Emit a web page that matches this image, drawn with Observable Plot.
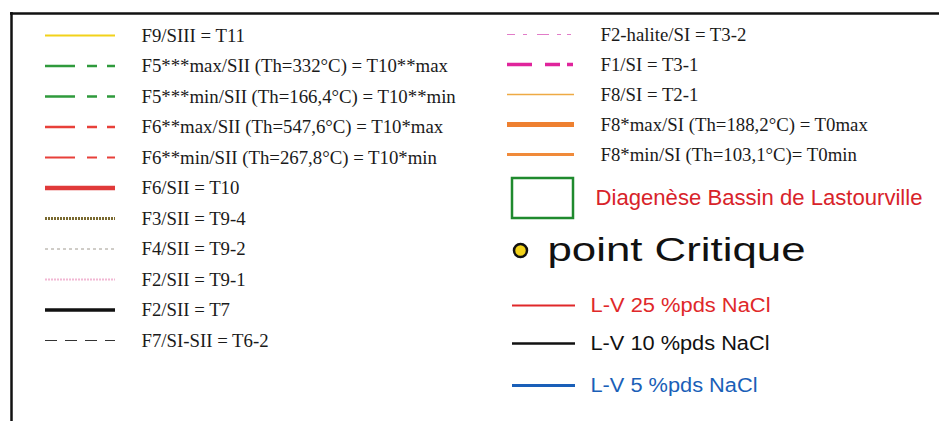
<!DOCTYPE html>
<html>
<head>
<meta charset="utf-8">
<script src="https://cdn.jsdelivr.net/npm/d3@7"></script>
<script src="https://cdn.jsdelivr.net/npm/@observablehq/plot@0.6"></script>
<style>
  html, body { margin: 0; padding: 0; background: #fff; }
  svg { display: block; }
</style>
</head>
<body>
<div id="chart"></div>
<script>
// ---- Data (legend entries) ----
const leftLabels = [
  "F9/SIII = T11",
  "F5***max/SII (Th=332°C) = T10**max",
  "F5***min/SII (Th=166,4°C) = T10**min",
  "F6**max/SII (Th=547,6°C) = T10*max",
  "F6**min/SII (Th=267,8°C) = T10*min",
  "F6/SII = T10",
  "F3/SII = T9-4",
  "F4/SII = T9-2",
  "F2/SII = T9-1",
  "F2/SII = T7",
  "F7/SI-SII = T6-2"
];
const leftColors = ["#f2d21a", "#2f9a3c", "#2f9a3c", "#e8403a", "#e8403a", "#e03a3a", "#7a6a30", "#a09a90", "#f2b8d4", "#111111", "#333333"];

const rightLabels = [
  "F2-halite/SI = T3-2",
  "F1/SI = T3-1",
  "F8/SI = T2-1",
  "F8*max/SI (Th=188,2°C) = T0max",
  "F8*min/SI (Th=103,1°C)= T0min"
];
const rightColors = ["#e27cc8", "#e0249c", "#eeaa44", "#ee8030", "#f08a3a"];

const salinityLabels = ["L-V 25 %pds NaCl", "L-V 10 %pds NaCl", "L-V 5 %pds NaCl"];
const salinityColors = ["#e0282a", "#111111", "#1a5fb8"];

const basinLabel = "Diagenèse Bassin de Lastourville";
const critLabel = "point Critique";

// ---- Styles & layout (kept apart from the data) ----
const leftDash = ["none", "30,12,10,10,8", "30,12,10,10,8", "30,12,10,10,8", "30,12,10,10,8", "none", "2,1", "3,3", "2,1", "none", "12,8"];
const leftWidth = [2, 2.5, 2.5, 2.5, 2, 4.5, 3, 1, 2, 3.5, 1.2];
const rightDash = ["8,8,4,10,12,8,4,6,4", "25,13,15,7,6", "none", "none", "none"];
const rightWidth = [1.2, 3.5, 1.5, 5, 3];
const salinityWidth = [2, 2.5, 3];

const leftRowsY = leftLabels.map((_, i) => 35 + i * 30.5);
const rightRowsY = rightLabels.map((_, i) => 34 + i * 30);
const salinityY = [305, 343, 385];
const sansTextLength = {[basinLabel]: 327, [critLabel]: 258, "L-V 25 %pds NaCl": 180, "L-V 10 %pds NaCl": 179, "L-V 5 %pds NaCl": 167};

const leftRows = leftLabels.map((label, i) => ({label, y: leftRowsY[i], x1: 45, x2: 115, tx: 141, color: leftColors[i], dash: leftDash[i], w: leftWidth[i]}));
const rightRows = rightLabels.map((label, i) => ({label, y: rightRowsY[i], x1: 507, x2: 574, tx: 600, color: rightColors[i], dash: rightDash[i], w: rightWidth[i]}));
const salRows = salinityLabels.map((label, i) => ({label, y: salinityY[i], x1: 512, x2: 575, tx: 590, color: salinityColors[i], w: salinityWidth[i]}));

const serif = "'Liberation Serif', 'DejaVu Serif', serif";
const sans = "'Liberation Sans', Arial, sans-serif";

const lineMarks = [...leftRows, ...rightRows].map(d =>
  Plot.ruleY([d], {y: "y", x1: "x1", x2: "x2", stroke: d.color, strokeWidth: d.w, strokeDasharray: d.dash === "none" ? undefined : d.dash})
);
const salMarks = salRows.map(d =>
  Plot.ruleY([d], {y: "y", x1: "x1", x2: "x2", stroke: d.color, strokeWidth: d.w})
);

const chart = Plot.plot({
  width: 939,
  height: 421,
  margin: 0,
  x: {domain: [0, 939], range: [0, 939], axis: null},
  y: {domain: [0, 421], range: [0, 421], axis: null},
  marks: [
    // frame (top and left borders; box runs off the right and bottom)
    Plot.ruleY([13], {x1: 10, x2: 939, stroke: "#111", strokeWidth: 2.5}),
    Plot.ruleX([11], {y1: 12, y2: 421, stroke: "#111", strokeWidth: 2.5}),
    ...lineMarks,
    ...salMarks,
    Plot.text(leftRows, {x: "tx", y: "y", text: "label", textAnchor: "start", lineAnchor: "middle", fontFamily: serif, fontSize: 18.8, fill: "#1a1a1a"}),
    Plot.text(rightRows, {x: "tx", y: "y", text: "label", textAnchor: "start", lineAnchor: "middle", fontFamily: serif, fontSize: 18.8, fill: "#1a1a1a"}),
    // basin box
    Plot.rect([{x1: 512, x2: 573, y1: 178, y2: 218}], {x1: "x1", x2: "x2", y1: "y1", y2: "y2", fill: "none", stroke: "#1f8a2e", strokeWidth: 2.5}),
    Plot.text([{x: 595, y: 198, t: basinLabel}], {x: "x", y: "y", text: "t", textAnchor: "start", lineAnchor: "middle", fontFamily: sans, fontSize: 21.5, fill: "#d8232a"}),
    // critical point
    Plot.dot([{x: 520, y: 250}], {x: "x", y: "y", r: 6.5, fill: "#f2d21a", stroke: "#111", strokeWidth: 2.5}),
    Plot.text([{x: 547, y: 250, t: critLabel}], {x: "x", y: "y", text: "t", textAnchor: "start", lineAnchor: "middle", fontFamily: sans, fontSize: 33, fill: "#111"}),
    Plot.text(salRows, {x: "tx", y: "y", text: "label", textAnchor: "start", lineAnchor: "middle", fontFamily: sans, fontSize: 20, fill: d => d.color})
  ]
});
d3.select(chart).selectAll("text").each(function () {
  const len = sansTextLength[this.textContent];
  if (len) d3.select(this).attr("textLength", len).attr("lengthAdjust", "spacingAndGlyphs");
});
document.getElementById("chart").appendChild(chart);
</script>
</body>
</html>
